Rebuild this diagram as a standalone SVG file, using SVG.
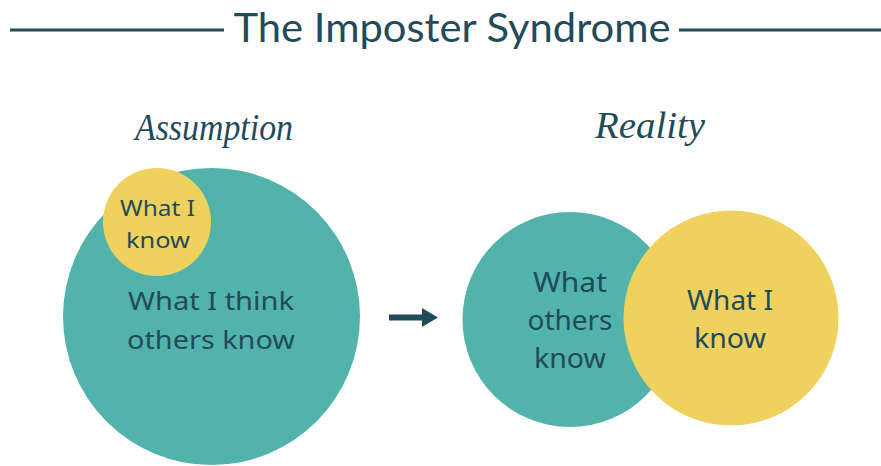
<svg xmlns="http://www.w3.org/2000/svg" width="881" height="466" viewBox="0 0 881 466">
  <defs>
    <style>
      .ink { fill: #1f4b5b; }
      .rule { stroke: #1f4b5b; stroke-width: 3; }
      .teal { fill: #52b3ab; }
      .gold { fill: #efd15d; }
      .label { font-family: "Noto Sans", "DejaVu Sans", sans-serif; font-size: 26px; fill: #1f4b5b; text-anchor: middle; }
      .small { font-size: 22px; }
      .big { font-size: 28px; }
      .script { font-family: "Liberation Serif", "DejaVu Serif", serif; font-style: italic; font-size: 38px; fill: #1f4b5b; text-anchor: middle; }
      .title { font-family: Lato, "Liberation Sans", sans-serif; font-size: 40px; fill: #1f4b5b; text-anchor: middle; }
    </style>
  </defs>
  <rect width="881" height="466" fill="#ffffff"/>

  <!-- Heading with rules on both sides -->
  <g id="heading">
    <line class="rule" x1="10" y1="30" x2="224" y2="30"/>
    <line class="rule" x1="679" y1="30" x2="881" y2="30"/>
    <text class="title" x="452" y="42" textLength="437" lengthAdjust="spacingAndGlyphs">The Imposter Syndrome</text>
  </g>

  <!-- Section captions -->
  <g id="caption-assumption">
    <text class="script" x="214" y="140" textLength="158" lengthAdjust="spacingAndGlyphs">Assumption</text>
  </g>
  <g id="caption-reality">
    <text class="script" x="650" y="138" textLength="110" lengthAdjust="spacingAndGlyphs">Reality</text>
  </g>

  <!-- Assumption: small circle sitting on a big one -->
  <g id="others-know-assumed">
    <circle class="teal" cx="211.5" cy="316.5" r="148.5"/>
    <text class="label" x="211" y="310" textLength="166" lengthAdjust="spacingAndGlyphs">What I think</text>
    <text class="label" x="211" y="349" textLength="168" lengthAdjust="spacingAndGlyphs">others know</text>
  </g>
  <g id="i-know-assumed">
    <circle class="gold" cx="157" cy="222" r="54"/>
    <text class="label small" x="157.5" y="216" textLength="75" lengthAdjust="spacingAndGlyphs">What I</text>
    <text class="label small" x="158" y="248" textLength="64" lengthAdjust="spacingAndGlyphs">know</text>
  </g>

  <!-- Transition arrow -->
  <g id="connectors">
    <path class="ink" d="M389 314.5 H422 V308 L438 317.5 L422 327 V320.5 H389 Z"/>
  </g>

  <!-- Reality: two circles of similar size -->
  <g id="others-know-real">
    <circle class="teal" cx="570" cy="319.5" r="107.5"/>
    <text class="label big" x="570" y="292" textLength="74" lengthAdjust="spacingAndGlyphs">What</text>
    <text class="label big" x="570" y="330" textLength="85" lengthAdjust="spacingAndGlyphs">others</text>
    <text class="label big" x="570" y="368" textLength="72" lengthAdjust="spacingAndGlyphs">know</text>
  </g>
  <g id="i-know-real">
    <circle class="gold" cx="731" cy="318" r="107.5"/>
    <text class="label big" x="730" y="310" textLength="86" lengthAdjust="spacingAndGlyphs">What I</text>
    <text class="label big" x="730" y="348" textLength="72" lengthAdjust="spacingAndGlyphs">know</text>
  </g>
</svg>
